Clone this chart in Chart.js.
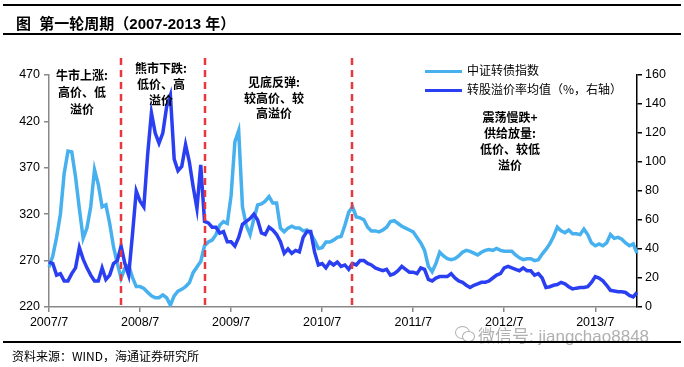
<!DOCTYPE html>
<html>
<head>
<meta charset="utf-8">
<script src="https://cdn.jsdelivr.net/npm/chart.js@4.4.1/dist/chart.umd.min.js"></script>
<style>
    body { margin: 0; background: #fff; }
    #wrap { position: relative; width: 684px; height: 367px; font-family: "Liberation Sans", "Noto Sans CJK SC", sans-serif; color: #000; }
    #chart { position: absolute; left: 0; top: 0; }
    .rule { position: absolute; left: 3px; width: 678px; height: 2px; background: #000; }
    .title { position: absolute; left: 16px; top: 12px; font-size: 15px; font-weight: bold; white-space: pre; }
    .note { position: absolute; font-family: "Noto Sans CJK SC", sans-serif; font-size: 12px; font-weight: bold; text-align: center; white-space: nowrap; transform: translateX(-50%); }
    .legend { position: absolute; left: 425px; font-size: 12px; font-family: "Noto Sans CJK SC", sans-serif; white-space: nowrap; }
    .legend i { display: inline-block; width: 37px; height: 3px; vertical-align: middle; margin-right: 5px; }
    .source { position: absolute; left: 12px; top: 347px; font-size: 12px; font-family: "Noto Sans CJK SC", sans-serif; }
    .mark { position: absolute; left: 478px; top: 322px; font-size: 17px; color: rgba(150, 150, 150, 0.75); white-space: nowrap; }
    .bubble { position: absolute; border: 1.5px solid rgba(150, 150, 150, 0.75); border-radius: 50%; background: #fff; }
</style>
</head>
<body>
<div id="wrap">
    <canvas id="chart" width="684" height="367"></canvas>
    <div class="rule" style="top:4px"></div>
    <div class="title">图  第一轮周期（2007-2013 年）</div>
    <div class="rule" style="top:33px"></div>

    <div class="note" style="left:82px; top:66px; line-height:17px">牛市上涨:<br>高价、低<br>溢价</div>
    <div class="note" style="left:161px; top:60px; line-height:16px">熊市下跌:<br>低价、高<br>溢价</div>
    <div class="note" style="left:274px; top:74px; line-height:15.5px">见底反弹:<br>较高价、较<br>高溢价</div>
    <div class="note" style="left:510px; top:109px; line-height:16px">震荡慢跌+<br>供给放量:<br>低价、较低<br>溢价</div>

    <div class="legend" style="top:61px"><i style="background:#47b0ee"></i>中证转债指数</div>
    <div class="legend" style="top:80px"><i style="background:#2b3ff2"></i>转股溢价率均值（%，右轴）</div>

    <div class="bubble" style="left:455px; top:326px; width:13px; height:11px"></div>
    <div class="bubble" style="left:462px; top:331px; width:11px; height:9px"></div>
    <div class="mark">微信号: jiangchao8848</div>
    <div class="rule" style="top:341px"></div>
    <div class="source">资料来源：WIND，海通证券研究所</div>
</div>
<script>
// Zeitachse: halbmonatlich, 2007/7 bis 2013/12
var categories = [];
for (var y = 2007; y <= 2013; y++) {
    for (var m = (y === 2007 ? 7 : 1); m <= 12; m++) {
        var mm = (m < 10 ? '0' : '') + m;
        categories.push(y + '-' + mm + '-01');
        categories.push(y + '-' + mm + '-16');
    }
}

// 中证转债指数 (linke Achse)
var convIndex = [
    263, 275, 295, 320, 364, 388, 387, 360, 326, 294,
    305, 328, 368, 352, 328, 330, 310, 285, 267, 251,
    262, 265, 252, 242, 242, 240, 236, 232, 230, 230,
    233, 230, 222, 232, 237, 239, 242, 246, 257, 263,
    269, 286, 290, 292, 298, 308, 312, 310, 340, 398,
    410, 328, 308, 298, 315, 330, 331, 334, 339, 332,
    332, 305, 301, 305, 307, 305, 305, 302, 303, 299,
    292, 283, 284, 290, 290, 292, 295, 296, 308, 322,
    328, 317, 316, 314, 306, 302, 302, 301, 303, 306,
    312, 313, 310, 307, 305, 303, 301, 295, 289, 281,
    264, 258, 267, 279, 275, 272, 271, 272, 275, 279,
    281, 280, 278, 276, 279, 281, 282, 281, 283, 281,
    280, 280, 280, 276, 273, 271, 272, 272, 270, 271,
    277, 282, 288, 296, 306, 302, 300, 303, 299, 299,
    298, 304, 298, 289, 286, 288, 286, 289, 298, 294,
    295, 293, 289, 286, 288, 278
];

// 转股溢价率均值 % (rechte Achse)
var premium = [
    31, 30, 22, 23, 18, 18, 23, 27, 41, 33,
    27, 22, 18, 18, 27, 19, 22, 30, 32, 42,
    30, 22, 50, 80, 73, 69, 105, 134, 120, 113,
    120, 138, 146, 102, 94, 97, 112, 100, 83, 68,
    98, 59, 58, 55, 55, 51, 52, 45, 45, 42,
    48, 57, 59, 61, 64, 60, 51, 50, 55, 53,
    50, 45, 37, 40, 37, 39, 38, 48, 52, 52,
    38, 29, 30, 27, 31, 29, 31, 28, 29, 26,
    30, 29, 32, 32, 30, 29, 27, 26, 25, 26,
    22, 23, 25, 28, 26, 24, 24, 23, 27, 26,
    19, 18, 20, 21, 21, 21, 23, 20, 18, 17,
    15, 13.5, 15, 16, 17, 17, 18, 20, 22, 23,
    27, 28, 27, 26, 25, 27, 25, 25, 22, 23,
    20, 13.5, 14, 15, 15.5, 17, 16, 14, 12.5, 13,
    13.4, 13.4, 14, 17, 21, 20, 18, 15, 11.5, 11,
    10.5, 10.5, 10, 8, 7, 10
];

// Phasengrenzen (rote Linien)
var phaseBreaks = ['2008-04-16', '2009-03-16', '2010-11-01'];

var tickFont = { family: 'Liberation Sans', size: 12.5 };

var breakLines = {
    id: 'breakLines',
    afterDatasetsDraw: function (chart) {
        var ctx = chart.ctx;
        var xs = chart.scales.x;
        var area = chart.chartArea;
        ctx.save();
        ctx.strokeStyle = '#e8383d';
        ctx.lineWidth = 2.5;
        ctx.setLineDash([7, 5]);
        phaseBreaks.forEach(function (d) {
            var px = Math.round(xs.getPixelForValue(categories.indexOf(d)));
            ctx.beginPath();
            ctx.moveTo(px, area.top - 17);
            ctx.lineTo(px, area.bottom);
            ctx.stroke();
        });
        ctx.restore();
    }
};

new Chart('chart', {
    type: 'line',
    data: {
        labels: categories,
        datasets: [{
            label: '中证转债指数',
            data: convIndex,
            yAxisID: 'y',
            borderColor: '#47b0ee',
            borderWidth: 3.5,
            pointRadius: 0,
            tension: 0,
            order: 1
        }, {
            label: '转股溢价率均值（%，右轴）',
            data: premium,
            yAxisID: 'y1',
            borderColor: '#2b3ff2',
            borderWidth: 3.5,
            pointRadius: 0,
            tension: 0,
            order: 0
        }]
    },
    options: {
        responsive: false,
        animation: false,
        layout: { padding: { top: 75, left: 0, right: 0, bottom: 0 } },
        plugins: { legend: { display: false }, tooltip: { enabled: false } },
        scales: {
            x: {
                offset: false,
                grid: { drawOnChartArea: false, tickLength: 5, tickColor: '#888', lineWidth: 1.5 },
                border: { color: '#888', width: 1.5 },
                ticks: {
                    autoSkip: false, maxRotation: 0, padding: 3, color: '#000', font: tickFont,
                    callback: function (v) {
                        var s = categories[v];
                        return s.slice(5) === '07-01' ? s.slice(0, 4) + '/7' : null;
                    }
                },
                afterFit: function (s) { s.height = 60; }
            },
            y: {
                position: 'left', min: 220, max: 470,
                grid: { drawOnChartArea: false, tickLength: 5, tickColor: '#888', lineWidth: 1.5 },
                border: { color: '#888', width: 1.5 },
                ticks: { stepSize: 50, padding: 4, color: '#000', font: tickFont },
                afterFit: function (s) { s.width = 49; }
            },
            y1: {
                position: 'right', min: 0, max: 160,
                grid: { drawOnChartArea: false, tickLength: 5, tickColor: '#000', lineWidth: 1.5 },
                border: { color: '#000', width: 1.5 },
                ticks: { stepSize: 20, padding: 3, color: '#000', font: tickFont },
                afterFit: function (s) { s.width = 47; }
            }
        }
    },
    plugins: [breakLines]
});
</script>
</body>
</html>
